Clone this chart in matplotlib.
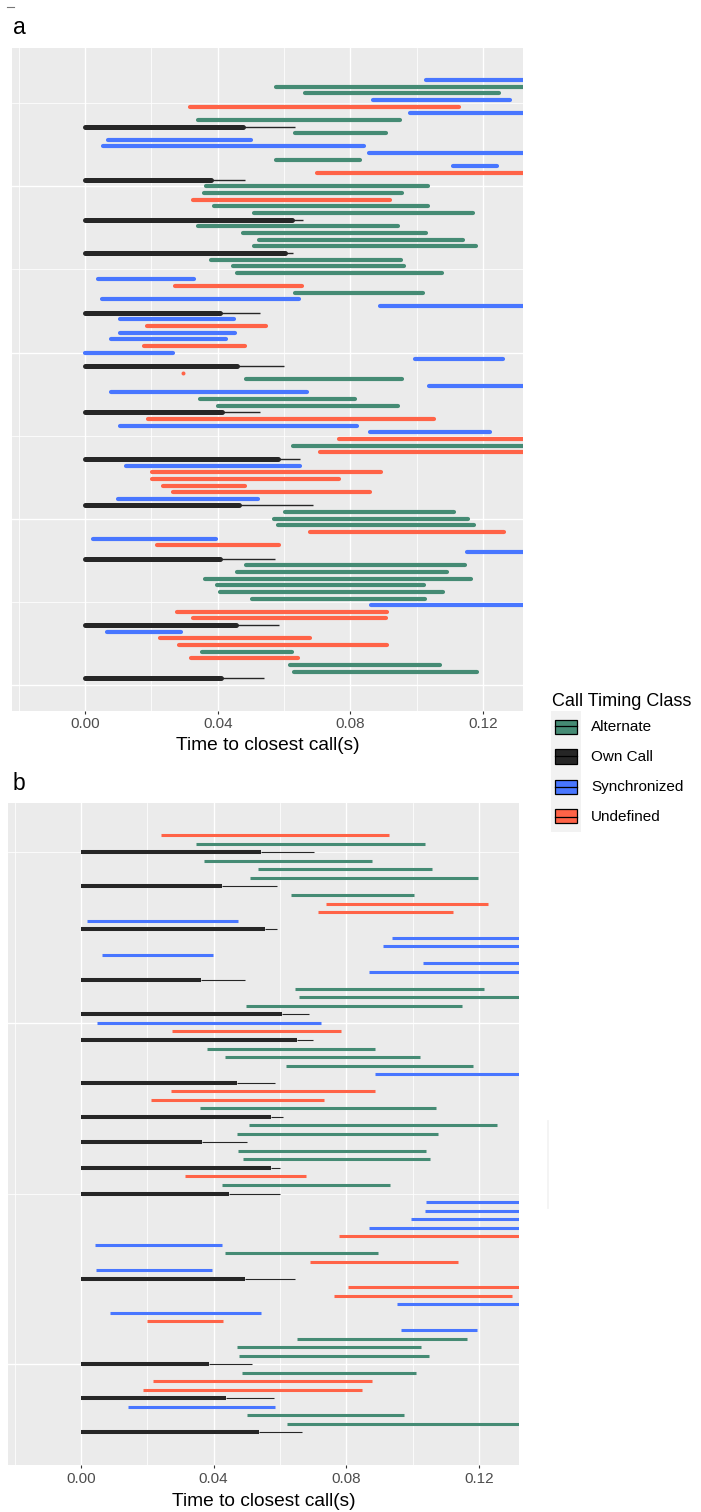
import matplotlib
matplotlib.use("Agg")
import matplotlib.pyplot as plt
import numpy as np
from matplotlib.patches import Rectangle
from matplotlib.lines import Line2D

plt.rcParams['font.family'] = ['Liberation Sans', 'DejaVu Sans']

# ---------------- data ----------------
class_names = {'A': 'Alternate', 'O': 'Own Call', 'S': 'Synchronized', 'U': 'Undefined'}
class_colors = {'A': '#458B74', 'O': '#262626', 'S': '#4876FF', 'U': '#FF6347'}
x_ticks = [0.00, 0.04, 0.08, 0.12]
x_tick_labels = ['0.00', '0.04', '0.08', '0.12']
x_label = 'Time to closest call(s)'

# Panel a (rows listed top to bottom); bars beyond the axis are clipped
a_class = list("SAASUSAOAS" "SSASUOAAUA" "AOAAAAOAAA" "SUASSOSUSS" "USSOUASSAA"
               "OUSSUAUOSU" "UUUSOAAAUS" "USOAAAAAAS" "UUOSUUAUAA" "O")
a_start = [0.1027, 0.0577, 0.0662, 0.0868, 0.0316, 0.0978, 0.0341, 0.0, 0.0634, 0.0069,
           0.0053, 0.0857, 0.0577, 0.1108, 0.0700, 0.0, 0.0364, 0.0359, 0.0325, 0.0388,
           0.0509, 0.0, 0.0341, 0.0475, 0.0525, 0.0509, 0.0, 0.0379, 0.0446, 0.0458,
           0.0040, 0.0270, 0.0634, 0.0051, 0.0890, 0.0, 0.0104, 0.0186, 0.0106, 0.0077,
           0.0179, 0.0000, 0.0995, 0.0, 0.0294, 0.0484, 0.1038, 0.0077, 0.0346, 0.0400,
           0.0, 0.0190, 0.0104, 0.0860, 0.0766, 0.0628, 0.0707, 0.0, 0.0125, 0.0203,
           0.0201, 0.0234, 0.0265, 0.0098, 0.0, 0.0604, 0.0571, 0.0582, 0.0678, 0.0023,
           0.0216, 0.1151, 0.0, 0.0484, 0.0457, 0.0361, 0.0399, 0.0406, 0.0504, 0.0863,
           0.0277, 0.0326, 0.0, 0.0065, 0.0226, 0.0282, 0.0353, 0.0318, 0.0617, 0.0629,
           0.0]
a_end = [0.14, 0.14, 0.1248, 0.1280, 0.1128, 0.14, 0.0950, 0.0477, 0.0908, 0.0501,
         0.0841, 0.14, 0.0830, 0.1242, 0.14, 0.0381, 0.1035, 0.0955, 0.0920, 0.1035,
         0.1168, 0.0623, 0.0942, 0.1027, 0.1138, 0.1178, 0.0602, 0.0953, 0.0962, 0.1077,
         0.0327, 0.0654, 0.1018, 0.0644, 0.14, 0.0406, 0.0448, 0.0544, 0.0451, 0.0424,
         0.0481, 0.0264, 0.1260, 0.0458, 0.0294, 0.0954, 0.14, 0.0670, 0.0813, 0.0942,
         0.0414, 0.1053, 0.0821, 0.1221, 0.14, 0.14, 0.14, 0.0582, 0.0647, 0.0892,
         0.0764, 0.0482, 0.0859, 0.0522, 0.0463, 0.1113, 0.1153, 0.1173, 0.1264, 0.0396,
         0.0584, 0.14, 0.0408, 0.1145, 0.1091, 0.1164, 0.1023, 0.1080, 0.1026, 0.14,
         0.0909, 0.0907, 0.0456, 0.0289, 0.0679, 0.0909, 0.0625, 0.0643, 0.1069, 0.1180,
         0.0409]
# upper end of the thin line for "Own Call" rows (in row order)
a_own_upper = [0.0634, 0.0483, 0.0657, 0.0626, 0.0528, 0.0601, 0.0528, 0.0647,
               0.0686, 0.0572, 0.0585, 0.0538]

# Panel b
b_class = list("UAOAAAOAUU" "SOSSSSSOAA" "AOSUOAAASO" "UUAOAAOAAO" "UAOSSSSUSA"
               "USOUUSSUSA" "AAOAUUOSAA" "O")
b_start = [0.0241, 0.0348, 0.0, 0.0371, 0.0535, 0.0510, 0.0, 0.0632, 0.0739, 0.0716,
           0.0018, 0.0, 0.0939, 0.0912, 0.0063, 0.1030, 0.0869, 0.0, 0.0644, 0.0656,
           0.0497, 0.0, 0.0048, 0.0276, 0.0, 0.0380, 0.0434, 0.0617, 0.0887, 0.0,
           0.0273, 0.0210, 0.0359, 0.0, 0.0508, 0.0471, 0.0, 0.0473, 0.0489, 0.0,
           0.0314, 0.0424, 0.0, 0.1040, 0.1037, 0.0995, 0.0869, 0.0777, 0.0041, 0.0433,
           0.0692, 0.0044, 0.0, 0.0805, 0.0764, 0.0952, 0.0087, 0.0200, 0.0966, 0.0650,
           0.0472, 0.0477, 0.0, 0.0485, 0.0216, 0.0186, 0.0, 0.0143, 0.0502, 0.0621,
           0.0]
b_end = [0.0930, 0.1037, 0.0544, 0.0877, 0.1058, 0.1198, 0.0425, 0.1003, 0.1227, 0.1122,
         0.0474, 0.0556, 0.14, 0.14, 0.0399, 0.14, 0.14, 0.0363, 0.1214, 0.14,
         0.1148, 0.0606, 0.0725, 0.0784, 0.0652, 0.0886, 0.1021, 0.1181, 0.14, 0.0472,
         0.0888, 0.0732, 0.1070, 0.0574, 0.1254, 0.1077, 0.0365, 0.1041, 0.1054, 0.0574,
         0.0678, 0.0931, 0.0447, 0.14, 0.14, 0.14, 0.14, 0.14, 0.0425, 0.0897,
         0.1137, 0.0395, 0.0496, 0.14, 0.1299, 0.14, 0.0543, 0.0428, 0.1194, 0.1164,
         0.1025, 0.1049, 0.0387, 0.1011, 0.0877, 0.0847, 0.0437, 0.0585, 0.0973, 0.14,
         0.0537]
b_own_upper = [0.0702, 0.0590, 0.0590, 0.0494, 0.0688, 0.0700, 0.0584, 0.0610,
               0.0501, 0.0601, 0.0601, 0.0644, 0.0517, 0.0582, 0.0667]

# ---------------- layout helpers ----------------
W, H = 701, 1512
fig = plt.figure(figsize=(W / 100, H / 100), dpi=100)


def fx(px):
    return px / W


def fy(py):
    return 1 - py / H


def add_panel(left, top, right, bottom):
    return fig.add_axes([fx(left), fy(bottom), fx(right) - fx(left), (bottom - top) / H])


def style_panel(ax, ylim, hgrid_major, hgrid_minor):
    ax.set_facecolor('#EBEBEB')
    for s in ax.spines.values():
        s.set_visible(False)
    ax.set_xlim(-0.022, 0.132)
    ax.set_ylim(*ylim)
    ax.set_xticks(x_ticks)
    ax.set_xticklabels(x_tick_labels)
    ax.set_yticks([])
    ax.tick_params(axis='x', length=2.2, width=0.8, color='#333333',
                   labelcolor='#4D4D4D', labelsize=11, pad=2.5)
    for v in x_ticks:
        ax.axvline(v, color='white', lw=1.0, zorder=0.5)
    for v in [-0.02, 0.02, 0.06, 0.10]:
        ax.axvline(v, color='white', lw=0.55, zorder=0.5)
    for v in hgrid_major:
        ax.axhline(v, color='white', lw=1.0, zorder=0.5)
    for v in hgrid_minor:
        ax.axhline(v, color='white', lw=0.55, zorder=0.5)


def draw_bars(ax, cls, start, end, own_upper, lw_col, lw_own, lw_err, cap):
    n = len(cls)
    ys = n + 1 - np.arange(1, n + 1)
    k = 0
    for c, s, e, y in zip(cls, start, end, ys):
        col = class_colors[c]
        if c == 'O':
            ax.hlines(y, e, own_upper[k], colors=col, lw=lw_err, zorder=2)
            ax.hlines(y, s, e, colors=col, lw=lw_own, zorder=3, capstyle=cap)
            k += 1
        elif s == e:
            ax.plot([s], [y], 'o', color=col, ms=lw_col * 0.95, mew=0, zorder=2)
        else:
            ax.hlines(y, s, e, colors=col, lw=lw_col, zorder=2, capstyle=cap)


# ---------------- panel a ----------------
ax_a = add_panel(12, 48.3, 523, 710.7)
style_panel(ax_a, (-3.87, 95.77), [0, 25, 50, 75], [12.5, 37.5, 62.5, 87.5])
draw_bars(ax_a, a_class, a_start, a_end, a_own_upper, 3.0, 3.6, 1.0, 'round')

# ---------------- panel b ----------------
ax_b = add_panel(8, 803.3, 518.7, 1465)
style_panel(ax_b, (-2.83, 74.75), [9, 49], [29, 69])
draw_bars(ax_b, b_class, b_start, b_end, b_own_upper, 2.2, 2.9, 0.8, 'butt')

# axis titles and tags
fig.text(fx(267.5), fy(746), x_label, ha='center', va='center', fontsize=13.75)
fig.text(fx(263.4), fy(1501.7), x_label, ha='center', va='center', fontsize=13.75)
fig.text(fx(12.5), fy(34), 'a', ha='left', va='baseline', fontsize=16.5)
fig.text(fx(12.5), fy(789.5), 'b', ha='left', va='baseline', fontsize=16.5)

# small artefacts present in the reference
fig.add_artist(Line2D([fx(7.3), fx(14)], [fy(6.5), fy(6.5)], color='#777777', lw=0.8))
fig.add_artist(Line2D([fx(548), fx(548)], [fy(1121), fy(1208)], color='#F2F2F2', lw=1.2))

# ---------------- legend ----------------
fig.text(fx(552), fy(702), 'Call Timing Class', ha='left', va='center', fontsize=13)
for i, c in enumerate(['A', 'O', 'S', 'U']):
    cy = 726.5 + 30 * i
    fig.add_artist(Rectangle((fx(551), fy(cy + 15)), fx(581) - fx(551), 30 / H,
                             facecolor='#F2F2F2', edgecolor='none', transform=fig.transFigure))
    fig.add_artist(Rectangle((fx(555), fy(cy + 7)), fx(577) - fx(555), 14 / H,
                             facecolor=class_colors[c], edgecolor='black', lw=0.9,
                             transform=fig.transFigure))
    fig.add_artist(Line2D([fx(555), fx(577)], [fy(cy), fy(cy)], color='black', lw=0.9))
    fig.text(fx(591), fy(cy + 0.8), class_names[c], ha='left', va='center', fontsize=11)

fig.savefig('out.png', dpi=100)
